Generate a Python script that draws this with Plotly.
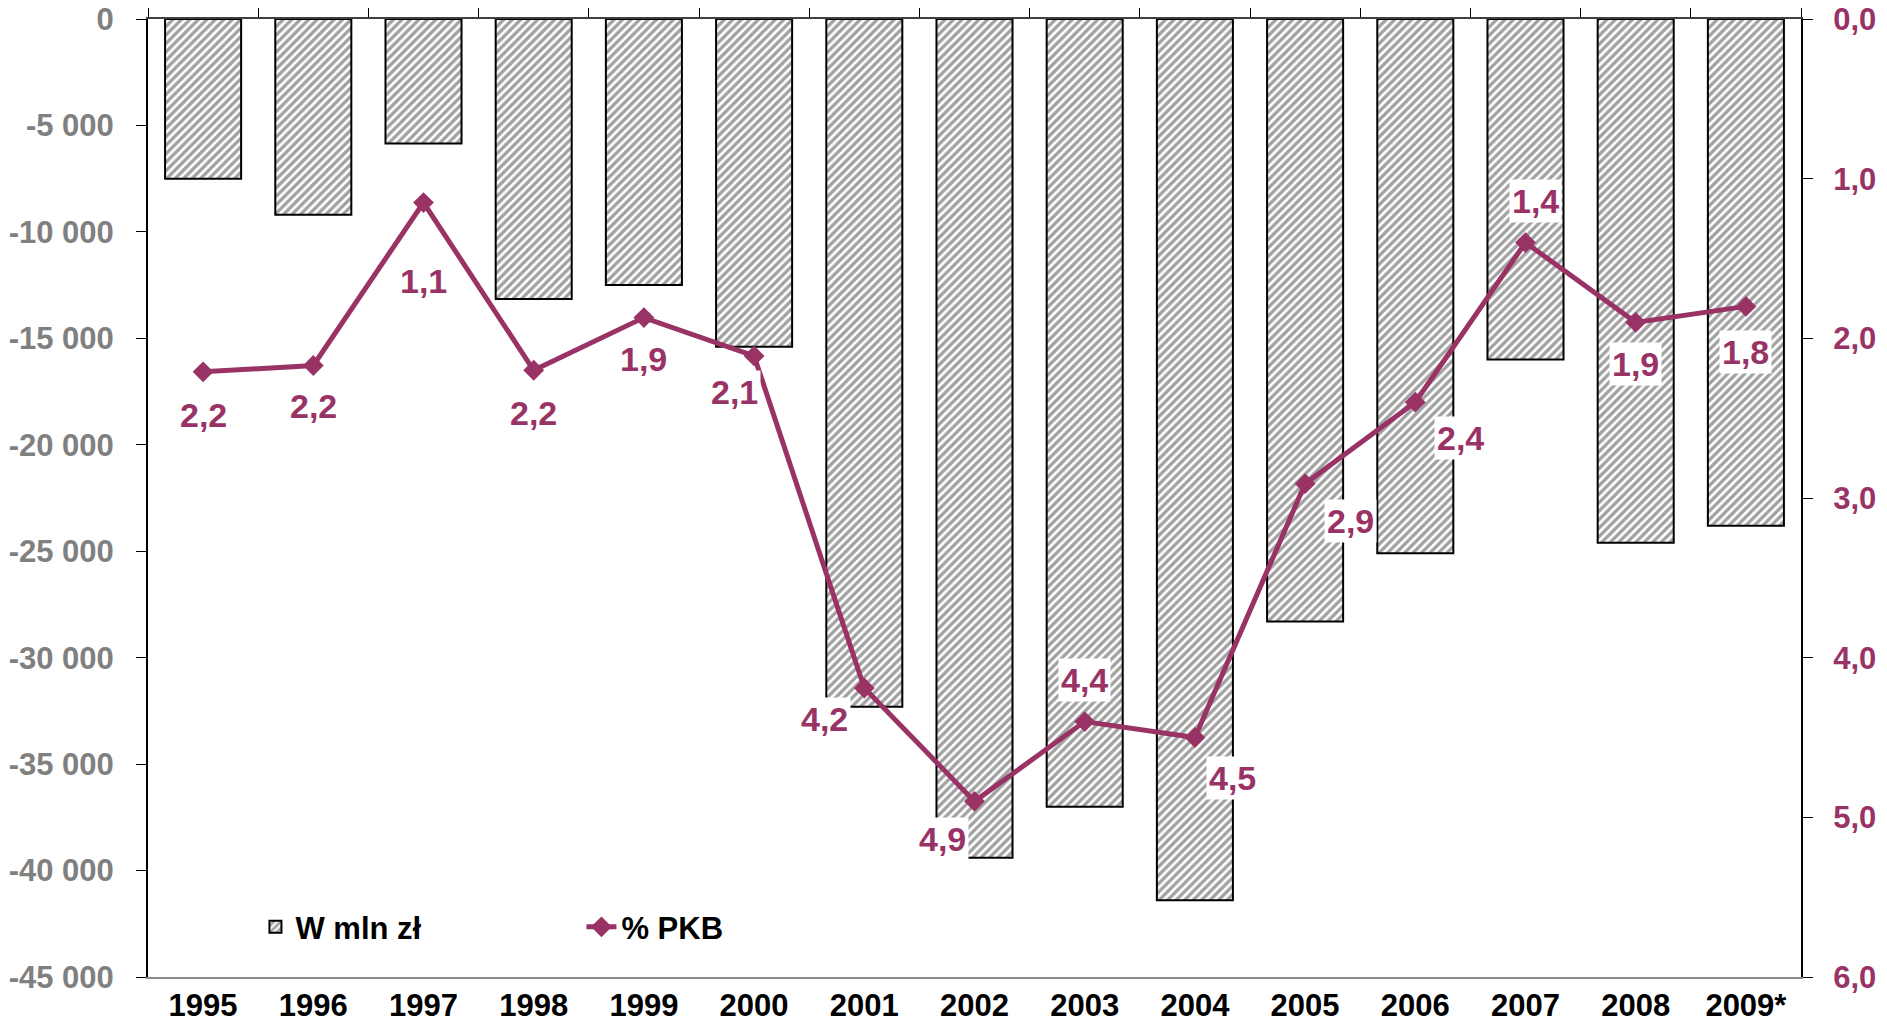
import plotly.graph_objs as go

# data
years = ["1995", "1996", "1997", "1998", "1999", "2000", "2001", "2002",
         "2003", "2004", "2005", "2006", "2007", "2008", "2009*"]
deficit_mln = [-7500, -9200, -5850, -13150, -12500, -15400, -32300, -39400,
               -37000, -41400, -28300, -25100, -16000, -24600, -23800]
pct_gdp = [2.21, 2.17, 1.15, 2.2, 1.87, 2.11, 4.19, 4.9,
           4.4, 4.5, 2.91, 2.4, 1.4, 1.9, 1.8]
left_ticks = [0, -5000, -10000, -15000, -20000, -25000, -30000, -35000, -40000, -45000]
right_ticks = [0, 1, 2, 3, 4, 5, 6]

# label offsets (px) for the % labels, as placed in the reference
label_dx = [0, 0, 0, 0, 0, -20, -40, -32, 0, 38, 45, 45, 10, 0, 0]
label_dy = [-43, -41, -78, -43, -41, -36, -31, -38, 42, -40, -37, -36, 42, -42, -46]

PLUM = "#993366"
FONT = "Liberation Sans, Arial, sans-serif"
n = len(years)

fig = go.Figure()

# bars, hatched
fig.add_trace(go.Bar(
    x=years, y=deficit_mln, name="W mln zł",
    marker=dict(
        color="white",
        line=dict(color="black", width=2),
        pattern=dict(shape="/", fgcolor="#444444", bgcolor="white",
                     size=6, solidity=0.55),
    ),
    xaxis="x", yaxis="y",
))

# % of GDP line on reversed right axis
fig.add_trace(go.Scatter(
    x=years, y=pct_gdp, name="% PKB", mode="lines+markers",
    line=dict(color=PLUM, width=5),
    marker=dict(symbol="diamond", size=16, color=PLUM),
    xaxis="x2", yaxis="y2",
))

# value labels (category index used so "1995" is not read as a number)
for i, v in enumerate(pct_gdp):
    fig.add_annotation(
        x=i, y=v, xref="x", yref="y2",
        text=f"{v:.1f}".replace(".", ","),
        showarrow=False, xshift=label_dx[i], yshift=label_dy[i],
        bgcolor="white", borderpad=2,
        font=dict(family=FONT, size=34, color=PLUM, weight="bold"),
    )

tickfont = dict(family=FONT, size=31, weight="bold")

fig.update_layout(
    width=1887, height=1028,
    margin=dict(l=148, r=86, t=19, b=51),
    plot_bgcolor="white", paper_bgcolor="white",
    separators=", ",
    bargap=0.31,
    showlegend=True,
    legend=dict(
        orientation="h", x=0.065, y=0.052, xanchor="left", yanchor="middle",
        bgcolor="rgba(0,0,0,0)", entrywidth=281, entrywidthmode="pixels",
        font=dict(family=FONT, size=31, color="black", weight="bold"),
    ),
    xaxis=dict(
        type="category", range=[-0.5, n - 0.5], side="bottom", anchor="y",
        showline=True, linecolor="#8c8c8c", linewidth=2, ticks="",
        showgrid=False, automargin=False,
        tickfont=dict(tickfont, color="black"),
    ),
    xaxis2=dict(
        overlaying="x", matches="x", side="top", anchor="y",
        showline=True, linecolor="#404040", linewidth=2,
        ticks="outside", tickson="boundaries", ticklen=9, tickcolor="black",
        showticklabels=False, showgrid=False, automargin=False,
    ),
    # inner halves of the crossing tick marks
    xaxis3=dict(
        overlaying="x", side="top", anchor="y", range=[-0.5, n - 0.5],
        tickvals=[i + 0.5 for i in range(n - 1)], ticks="inside", ticklen=9,
        tickcolor="black", showticklabels=False, showgrid=False,
        showline=False, zeroline=False, automargin=False,
    ),
    yaxis=dict(
        range=[-45000, 0], tickvals=left_ticks,
        ticktext=[f"{v:,}".replace(",", " ") for v in left_ticks],
        showline=True, linecolor="black", linewidth=2,
        ticks="outside", ticklen=10, tickcolor="black", ticklabelstandoff=16,
        ticklabeloverflow="allow",
        showgrid=False, zeroline=False, automargin=False,
        tickfont=dict(tickfont, color="#808080"),
    ),
    yaxis2=dict(
        overlaying="y", side="right", anchor="x2",
        range=[6, 0], tickvals=right_ticks, tickformat=".1f",
        showline=True, linecolor="black", linewidth=2,
        ticks="outside", ticklen=10, tickcolor="black", ticklabelstandoff=14,
        ticklabeloverflow="allow",
        showgrid=False, zeroline=False, automargin=False,
        tickfont=dict(tickfont, color=PLUM),
    ),
    yaxis3=dict(
        overlaying="y", side="left", anchor="x", range=[-45000, 0],
        tickvals=left_ticks, ticks="inside", ticklen=10, tickcolor="black",
        showticklabels=False, showgrid=False, showline=False,
        zeroline=False, automargin=False,
    ),
    yaxis4=dict(
        overlaying="y", side="right", anchor="x2", range=[6, 0],
        tickvals=right_ticks, ticks="inside", ticklen=10, tickcolor="black",
        showticklabels=False, showgrid=False, showline=False,
        zeroline=False, automargin=False,
    ),
)

# drop the default page margin so the figure fills the window exactly
fig.write_html("out.html", config={"displayModeBar": False},
               post_script="document.body.style.margin='0';")
